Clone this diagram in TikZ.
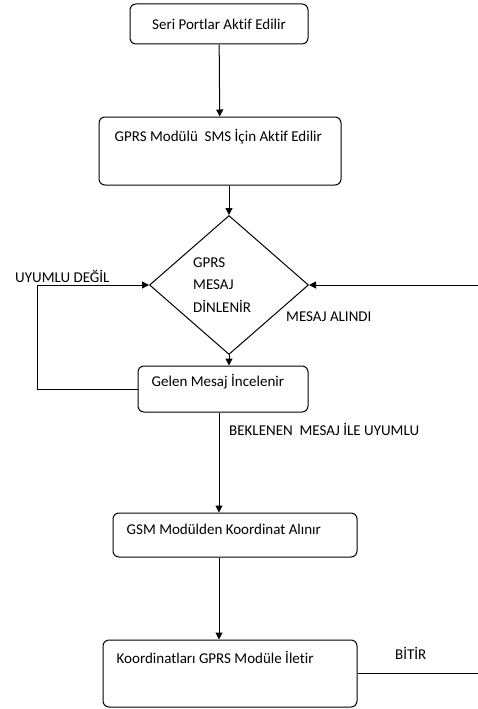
\documentclass[tikz,border=0pt]{standalone}
\usepackage{fontspec}
\setmainfont{Carlito}[Ligatures=NoCommon]
\usepackage{tikz}
\usetikzlibrary{arrows.meta,positioning,calc,shapes.geometric}

\begin{document}
\begin{tikzpicture}[x=1pt,y=-1pt,
  box/.style={draw,line width=1pt,rounded corners=6pt,inner sep=0pt},
  dec/.style={draw,line width=1pt,diamond,inner sep=0pt},
  txt/.style={font=\fontsize{15}{22.5}\selectfont,inner sep=0pt},
  arr/.style={line width=1pt,-{Triangle[length=7pt,width=7pt]}},
  ln/.style={line width=1pt}]
\useasboundingbox (0,0) rectangle (478,709);
% boxes
\node[box,txt,minimum width=178pt,minimum height=40pt] (b1) at (219,24) {Seri Portlar Aktif Edilir};
\node[box,minimum width=242pt,minimum height=68pt] (b2) at (220,151) {};
\node[dec,minimum width=159pt,minimum height=139pt] (dia) at (229,285) {};
\node[box,minimum width=170pt,minimum height=46pt] (b3) at (223,389) {};
\node[box,minimum width=244pt,minimum height=44pt] (b4) at (235,535) {};
\node[box,minimum width=254pt,minimum height=67pt] (b5) at (230,673.5) {};
% texts in the boxes
\node[txt,anchor=west] (t2) at ([xshift=16pt,yshift=-20pt]b2.north west) {GPRS Modülü\ \ SMS İçin Aktif Edilir};
\node[txt,anchor=west,align=left] (td) at (193,285) {GPRS\\MESAJ\\DİNLENİR};
\node[txt,anchor=west] (t3) at ([xshift=14pt,yshift=-16pt]b3.north west) {Gelen Mesaj İncelenir};
\node[txt,anchor=west] (t4) at ([xshift=14pt,yshift=-17pt]b4.north west) {GSM Modülden Koordinat Alınır};
\node[txt,anchor=west] (t5) at ([xshift=14pt,yshift=-18pt]b5.north west) {Koordinatları GPRS Modüle İletir};
% edge labels
\node[txt,anchor=west] (lno) at (15,276) {UYUMLU DEĞİL};
\node[txt,anchor=west] (lin) at (286,317) {MESAJ ALINDI};
\node[txt,anchor=west] (lok) at (229,429) {BEKLENEN\ \ MESAJ İLE UYUMLU};
\node[txt,anchor=west] (lend) at (395,653) {BİTİR};
% free ends
\coordinate (inR) at (478,285);
\coordinate (outR) at (478,673.5);
\coordinate (loopL) at (37,389);
% connectors
\draw[arr] (b1) -- (b2);
\draw[arr] (b2.south -| dia.north) -- (dia.north);
\draw[arr] (dia.south) -- (dia.south |- b3.north);
\draw[arr] (b3.south -| b1) -- (b4.north -| b1);
\draw[arr] (b4.south -| b1) -- (b5.north -| b1);
\draw[arr] (inR) -- (dia.east);
\draw[arr] (b3.west) -- (loopL) |- (dia.west);
\draw[ln] (b5.east) -- (outR);
\end{tikzpicture}
\end{document}
